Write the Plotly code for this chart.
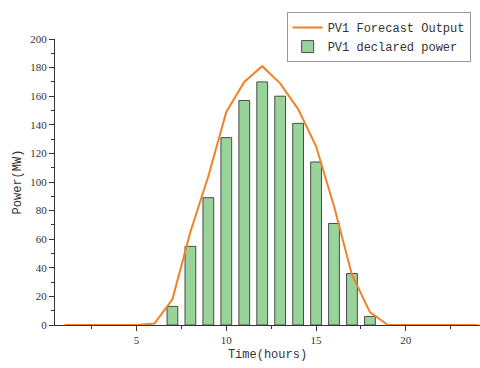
import plotly.graph_objects as go

hours = list(range(1, 25))
forecast = [0, 0, 0, 0, 0, 1, 18, 65, 104, 149, 170, 181, 169, 151, 125, 83, 35, 9, 0, 0, 0, 0, 0, 0]
bar_hours = [7, 8, 9, 10, 11, 12, 13, 14, 15, 16, 17, 18]
declared = [13, 55, 89, 131, 157, 170, 160, 141, 114, 71, 36, 6]

fig = go.Figure()
fig.add_trace(go.Bar(
    x=bar_hours, y=declared, width=0.6, name="PV1 declared power",
    marker=dict(color="#98D49A", line=dict(color="#4a4a4a", width=1)),
))
fig.add_trace(go.Scatter(
    x=hours, y=forecast, mode="lines", name="PV1 Forecast Output",
    line=dict(color="#F0822A", width=2),
))

fig.update_layout(
    width=480, height=368,
    margin=dict(l=55, r=0, t=39, b=43),
    plot_bgcolor="white", paper_bgcolor="white",
    showlegend=True,
    legend=dict(
        x=0.978, y=1.094, xanchor="right", yanchor="top",
        bgcolor="white", bordercolor="#999999", borderwidth=1,
        font=dict(family="Liberation Mono", size=12, color="#333333"),
        traceorder="reversed", tracegroupgap=0,
        itemwidth=30,
    ),
    xaxis=dict(
        range=[0.46, 24.13], tickvals=[5, 10, 15, 20],
        showgrid=False, zeroline=False,
        showline=True, linecolor="#333333", linewidth=1,
        ticks="outside", ticklen=5, tickcolor="#333333",
        minor=dict(tickvals=[2.5, 7.5, 12.5, 17.5, 22.5], ticks="outside", ticklen=3, tickcolor="#333333"),
        tickfont=dict(family="Liberation Serif", size=11, color="#333333"),
        title=dict(text="Time(hours)", font=dict(family="Liberation Mono", size=12, color="#333333"), standoff=4),
    ),
    yaxis=dict(
        range=[0, 200], dtick=20,
        showgrid=False, zeroline=False,
        showline=True, linecolor="#333333", linewidth=1,
        ticks="outside", ticklen=5, tickcolor="#333333",
        minor=dict(dtick=10, ticks="outside", ticklen=3, tickcolor="#333333"),
        tickfont=dict(family="Liberation Serif", size=11, color="#333333"),
        title=dict(text="Power(MW)", font=dict(family="Liberation Mono", size=12, color="#333333"), standoff=6),
    ),
)

fig.write_html("out.html")
